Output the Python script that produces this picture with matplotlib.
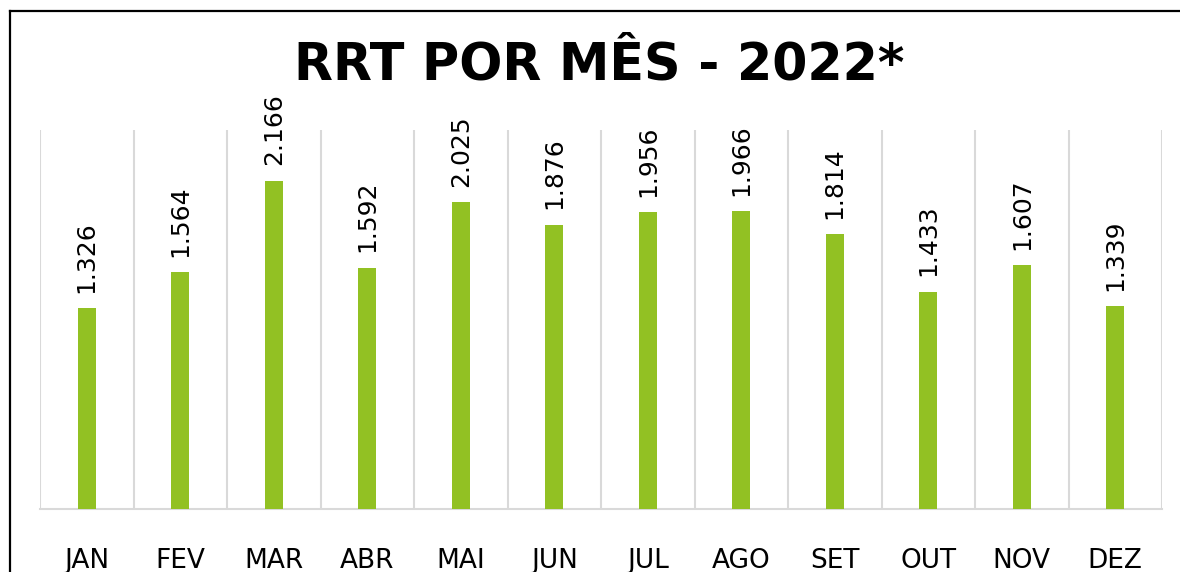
import matplotlib.pyplot as plt
from matplotlib.lines import Line2D

# data
months = ["JAN", "FEV", "MAR", "ABR", "MAI", "JUN",
          "JUL", "AGO", "SET", "OUT", "NOV", "DEZ"]
values = [1.326, 1.564, 2.166, 1.592, 2.025, 1.876,
          1.956, 1.966, 1.814, 1.433, 1.607, 1.339]

fig = plt.figure(figsize=(11.8, 5.72), dpi=100)
ax = fig.add_axes([40/1180, 1-509/572, 1122/1180, 379/572])

x = range(len(months))
ax.bar(x, values, width=0.19, color="#92C123", zorder=3)

# vertical separators between categories
for i in range(len(months) + 1):
    ax.plot([i - 0.5, i - 0.5], [0, 2.5], color="#D9D9D9", lw=1.5, zorder=1)

for i, v in enumerate(values):
    ax.annotate(f"{v:.3f}", (i, v), xytext=(0, 11), textcoords="offset points",
                rotation=90, ha="center", va="bottom", fontsize=18)

ax.set_xlim(-0.5, len(months) - 0.5)
ax.set_ylim(0, 2.5)
ax.set_xticks(list(x))
ax.set_xticklabels(months, fontsize=19)
ax.tick_params(axis="x", length=0, pad=28)
ax.set_yticks([])
for s in ["top", "right", "left"]:
    ax.spines[s].set_visible(False)
ax.spines["bottom"].set_color("#D9D9D9")
ax.spines["bottom"].set_linewidth(1.5)

fig.text(0.508, 0.886, "RRT POR MÊS - 2022*", ha="center", va="center",
         fontsize=36.5, fontweight="bold")

# outer frame (top and left only visible)
fig.add_artist(Line2D([10/1180, 1], [1-11/572, 1-11/572], color="black", lw=1.6))
fig.add_artist(Line2D([10/1180, 10/1180], [0, 1-11/572], color="black", lw=1.6))

fig.savefig("out.png", dpi=100)
